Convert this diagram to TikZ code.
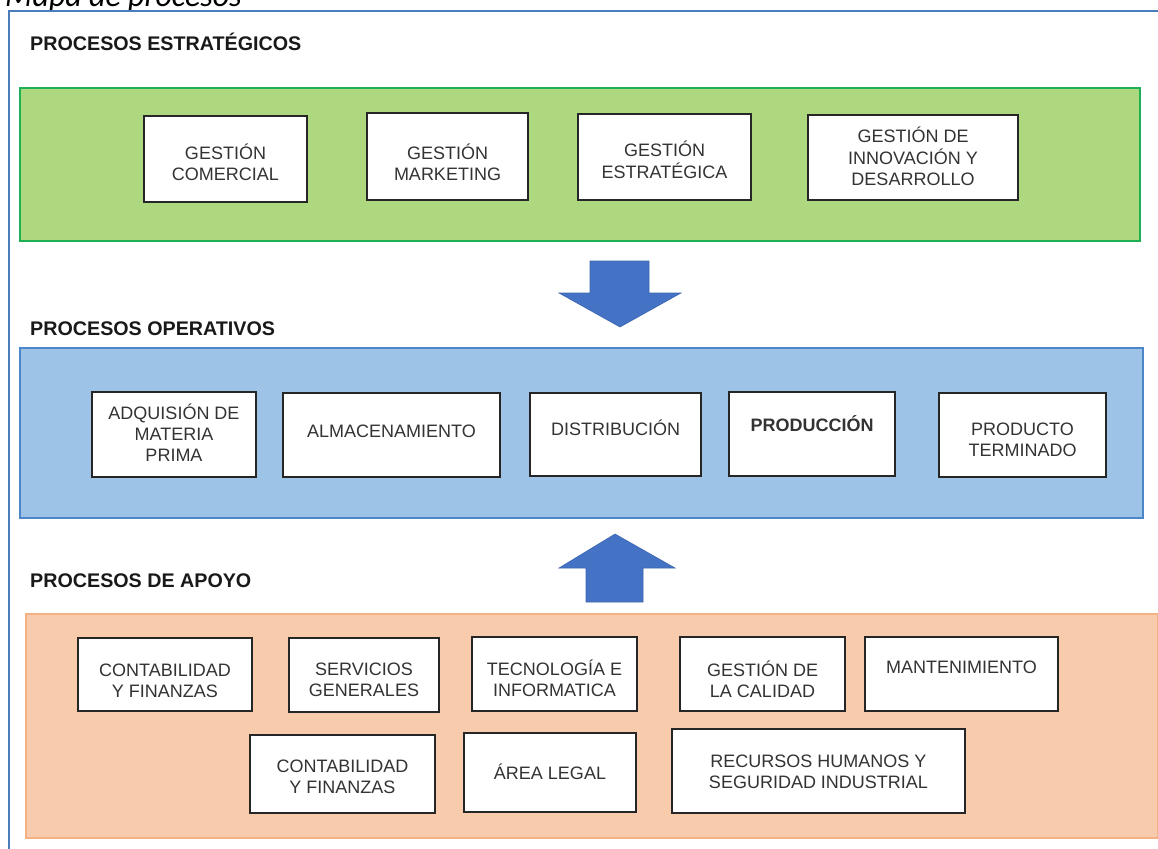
\documentclass[tikz,border=0pt]{standalone}
\usepackage{fontspec}
\setmainfont{Liberation Sans}
\newfontfamily\calib{Carlito}
\definecolor{framec}{HTML}{4A7EBB}
\definecolor{greenfill}{HTML}{ADD87F}
\definecolor{greenline}{HTML}{1DB054}
\definecolor{bluefill}{HTML}{9DC3E6}
\definecolor{blueline}{HTML}{4A86C8}
\definecolor{orangefill}{HTML}{F8CBAD}
\definecolor{orangeline}{HTML}{F4B183}
\definecolor{arrowc}{HTML}{4472C4}
\definecolor{txtc}{HTML}{333333}
\newcommand\mytxt[2]{\raisebox{#1}[\height][\depth]{\begin{tabular}{@{}c@{}}#2\end{tabular}}}
\begin{document}
\begin{tikzpicture}[x=1pt,y=-1pt,
  pbox/.style={draw=black!85, line width=1.5pt, fill=white, inner sep=0pt,
    text=txtc, font=\fontsize{18}{21}\selectfont},
  section/.style={inner sep=0pt, anchor=north west},
  seclabel/.style={anchor=west, inner sep=0pt, text=black!90,
    font=\bfseries\fontsize{19.7}{22}\selectfont},
  blockarrow/.style={fill=arrowc, draw=arrowc!90!black, line width=0.6pt, line join=miter}
]
\useasboundingbox (0,0) rectangle (1158,848);
\clip (0,0) rectangle (1158,848);
\fill[white] (0,0) rectangle (1158,848);

% title (cut by the page top)
\node[anchor=base west, inner sep=0pt] (title) at (5,7)
  {\calib\itshape\fontsize{32}{36}\selectfont Mapa de procesos};

% outer frame
\draw[framec, line width=2pt] (9,870) -- (9,11) -- (1180,11);

% section labels
\node[seclabel] (lstr) at (30,42) {PROCESOS ESTRATÉGICOS};
\node[seclabel] (lop)  at (30,329) {PROCESOS OPERATIVOS};
\node[seclabel] (lap)  at (30,581) {PROCESOS DE APOYO};

% section containers
\node[section, draw=greenline, fill=greenfill, line width=2pt,
  minimum width=1120pt, minimum height=153pt] (strat) at (19,87) {};
\node[section, draw=blueline, fill=bluefill, line width=1.5pt,
  minimum width=1123pt, minimum height=170pt] (oper) at (19,347) {};
\node[section, draw=orangeline, fill=orangefill, line width=1.5pt,
  minimum width=1132pt, minimum height=224pt] (apoyo) at (25,613) {};

% strategic processes
\node[pbox, minimum width=163pt, minimum height=86pt] (g1) at (225.5,159)
  {\mytxt{-6pt}{GESTIÓN\\COMERCIAL}};
\node[pbox, minimum width=161pt, minimum height=87pt] (g2) at (447.5,156.5)
  {\mytxt{-9pt}{GESTIÓN\\MARKETING}};
\node[pbox, minimum width=173pt, minimum height=86pt] (g3) at (664.5,157)
  {\mytxt{-6pt}{GESTIÓN\\ESTRATÉGICA}};
\node[pbox, minimum width=210pt, minimum height=85pt] (g4) at (913,157.5)
  {\mytxt{-2pt}{GESTIÓN DE\\INNOVACIÓN Y\\DESARROLLO}};

% operative processes
\node[pbox, minimum width=164pt, minimum height=85pt] (b1) at (174,434.5)
  {\mytxt{-1pt}{ADQUISIÓN DE\\MATERIA\\PRIMA}};
\node[pbox, minimum width=217pt, minimum height=84pt] (b2) at (391.5,435)
  {\mytxt{2pt}{ALMACENAMIENTO}};
\node[pbox, minimum width=171pt, minimum height=83pt] (b3) at (615.5,434.5)
  {\mytxt{4pt}{DISTRIBUCIÓN}};
\node[pbox, minimum width=166pt, minimum height=84pt] (b4) at (812,434)
  {\mytxt{7pt}{\bfseries PRODUCCIÓN}};
\node[pbox, minimum width=167pt, minimum height=84pt] (b5) at (1022.5,435)
  {\mytxt{-7pt}{PRODUCTO\\TERMINADO}};

% support processes
\node[pbox, minimum width=174pt, minimum height=73pt] (o1) at (165,674.5)
  {\mytxt{-8pt}{CONTABILIDAD\\Y FINANZAS}};
\node[pbox, minimum width=150pt, minimum height=74pt] (o2) at (364,675)
  {\mytxt{-7pt}{SERVICIOS\\GENERALES}};
\node[pbox, minimum width=165pt, minimum height=74pt] (o3) at (554.5,674)
  {\mytxt{-7pt}{TECNOLOGÍA E\\INFORMATICA}};
\node[pbox, minimum width=165pt, minimum height=74pt] (o4) at (762.5,674)
  {\mytxt{-8pt}{GESTIÓN DE\\LA CALIDAD}};
\node[pbox, minimum width=193pt, minimum height=74pt] (o5) at (961.5,674)
  {\mytxt{5pt}{MANTENIMIENTO}};
\node[pbox, minimum width=185pt, minimum height=78pt] (o6) at (342.5,774)
  {\mytxt{-5pt}{CONTABILIDAD\\Y FINANZAS}};
\node[pbox, minimum width=172pt, minimum height=79pt] (o7) at (550,772.5)
  {\mytxt{-2pt}{ÁREA LEGAL}};
\node[pbox, minimum width=293pt, minimum height=84pt] (o8) at (818.5,771)
  {\mytxt{-3pt}{RECURSOS HUMANOS Y\\SEGURIDAD INDUSTRIAL}};

% block arrows
\draw[blockarrow] (590,261) -- (649,261) -- (649,293) -- (681,293) -- (620,327)
  -- (559,293) -- (590,293) -- cycle;
\draw[blockarrow] (586,602) -- (643,602) -- (643,568) -- (675,568) -- (615,534)
  -- (559,568) -- (586,568) -- cycle;
\end{tikzpicture}
\end{document}
